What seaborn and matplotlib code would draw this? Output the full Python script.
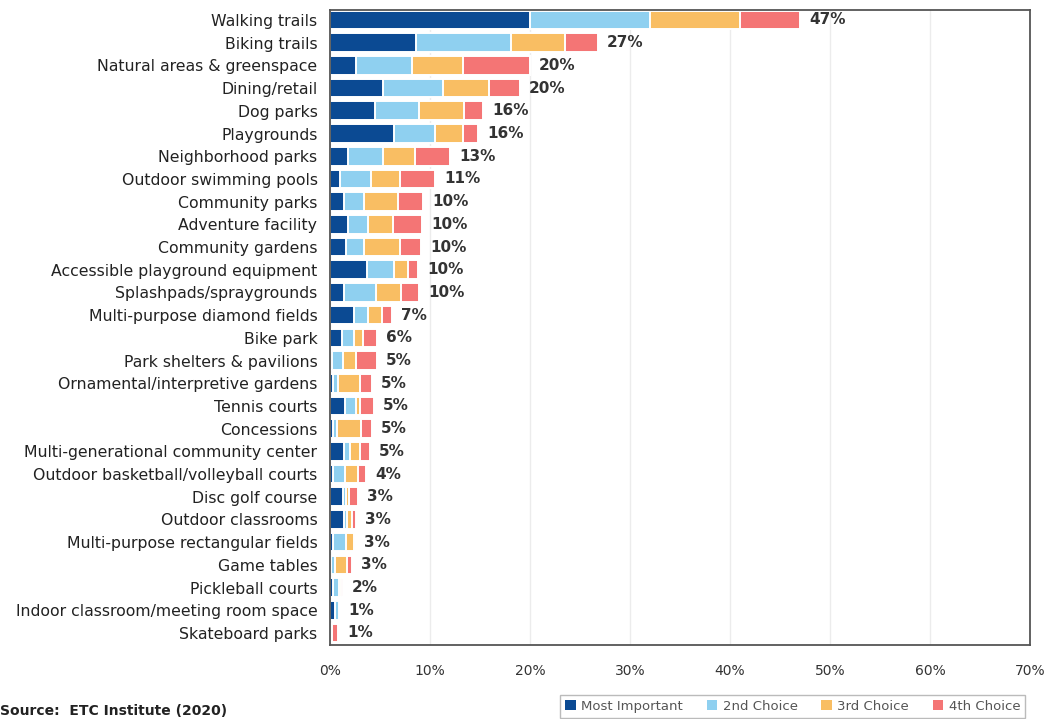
import matplotlib
matplotlib.use("Agg")
import matplotlib.pyplot as plt
from matplotlib.patches import Patch
import seaborn as sns
import pandas as pd
import numpy as np

categories = [
    "Walking trails", "Biking trails", "Natural areas & greenspace", "Dining/retail",
    "Dog parks", "Playgrounds", "Neighborhood parks", "Outdoor swimming pools",
    "Community parks", "Adventure facility", "Community gardens",
    "Accessible playground equipment", "Splashpads/spraygrounds",
    "Multi-purpose diamond fields", "Bike park", "Park shelters & pavilions",
    "Ornamental/interpretive gardens", "Tennis courts", "Concessions",
    "Multi-generational community center", "Outdoor basketball/volleyball courts",
    "Disc golf course", "Outdoor classrooms", "Multi-purpose rectangular fields",
    "Game tables", "Pickleball courts", "Indoor classroom/meeting room space",
    "Skateboard parks",
]
most_important = [20.0, 8.6, 2.6, 5.3, 4.5, 6.4, 1.8, 1.0, 1.4, 1.8, 1.6, 3.7, 1.4, 2.4, 1.2,
                  0.2, 0.3, 1.5, 0.3, 1.4, 0.3, 1.3, 1.4, 0.3, 0.1, 0.3, 0.5, 0.1]
second_choice = [12.0, 9.5, 5.6, 6.0, 4.4, 4.1, 3.5, 3.1, 2.0, 2.0, 1.8, 2.7, 3.2, 1.4, 1.2,
                 1.1, 0.5, 1.1, 0.4, 0.6, 1.2, 0.3, 0.3, 1.3, 0.4, 0.6, 0.4, 0.1]
third_choice = [9.0, 5.4, 5.1, 4.6, 4.5, 2.8, 3.2, 2.9, 3.4, 2.5, 3.6, 1.4, 2.5, 1.4, 0.9,
                1.3, 2.2, 0.4, 2.4, 1.0, 1.3, 0.3, 0.5, 0.8, 1.2, 0.2, 0.0, 0.0]
fourth_choice = [6.0, 3.3, 6.7, 3.1, 1.9, 1.5, 3.5, 3.5, 2.5, 2.9, 2.1, 1.0, 1.8, 1.0, 1.4,
                 2.1, 1.2, 1.4, 1.1, 1.0, 0.8, 0.9, 0.4, 0.1, 0.5, 0.2, 0.0, 0.6]
total_labels = ["47%", "27%", "20%", "20%", "16%", "16%", "13%", "11%", "10%", "10%", "10%",
                "10%", "10%", "7%", "6%", "5%", "5%", "5%", "5%", "5%", "4%", "3%", "3%",
                "3%", "3%", "2%", "1%", "1%"]
series_names = ["Most Important", "2nd Choice", "3rd Choice", "4th Choice"]
series_colors = ["#0B4A93", "#8FD0F0", "#F9BE63", "#F47575"]
x_ticks = [0, 10, 20, 30, 40, 50, 60, 70]

sns.set_theme(style="white")
plt.rcParams["font.family"] = ["DejaVu Sans"]

df = pd.DataFrame({
    "category": categories,
    "s1": most_important, "s2": second_choice, "s3": third_choice, "s4": fourth_choice,
})
df["c1"] = df["s1"]
df["c2"] = df["c1"] + df["s2"]
df["c3"] = df["c2"] + df["s3"]
df["c4"] = df["c3"] + df["s4"]

fig = plt.figure(figsize=(10.45, 7.19), dpi=100)
ax = fig.add_axes([330 / 1045, 1 - 645 / 719, 700 / 1045, 635 / 719])

ax.set_axisbelow(True)
ax.grid(axis="x", color="#ECECEC", linewidth=1.0)

for col, color in zip(["c4", "c3", "c2", "c1"], series_colors[::-1]):
    sns.barplot(data=df, x=col, y="category", orient="h", color=color, width=0.82,
                saturation=1, edgecolor="white", linewidth=1.4, ax=ax,
                order=categories, zorder=2)

for i, (tot, lab) in enumerate(zip(df["c4"], total_labels)):
    ax.text(tot + 0.9, i, lab, va="center", ha="left", fontsize=11,
            fontweight="bold", color="#333333")

ax.set_xlim(0, 70)
ax.set_ylim(27.53, -0.44)
ax.set_xticks(x_ticks)
ax.set_xticklabels([f"{t}%" for t in x_ticks], fontsize=10, color="#333333")
ax.tick_params(axis="x", length=0, pad=14)
ax.tick_params(axis="y", length=0, pad=9, labelsize=11.3, labelcolor="#222222")
ax.set_xlabel("")
ax.set_ylabel("")
for s in ax.spines.values():
    s.set_visible(True)
    s.set_color("#555555")
    s.set_linewidth(1.3)

handles = [Patch(facecolor=c, edgecolor="none") for c in series_colors]
leg = fig.legend(handles, series_names, loc="upper right", ncol=4,
                 bbox_to_anchor=(1032 / 1045, 1 - 688 / 719), fontsize=9.5,
                 frameon=True, fancybox=False, handlelength=0.8, handleheight=0.8,
                 handletextpad=0.4, columnspacing=1.8, borderpad=0.4)
leg.get_frame().set_edgecolor("#AAAAAA")
leg.get_frame().set_linewidth(1.0)
for t in leg.get_texts():
    t.set_color("#555555")

fig.text(0.0, 1 - 711 / 719, "Source:  ETC Institute (2020)", fontsize=10,
         fontweight="bold", color="#222222", va="center", ha="left")

fig.savefig("out.png", dpi=100)
